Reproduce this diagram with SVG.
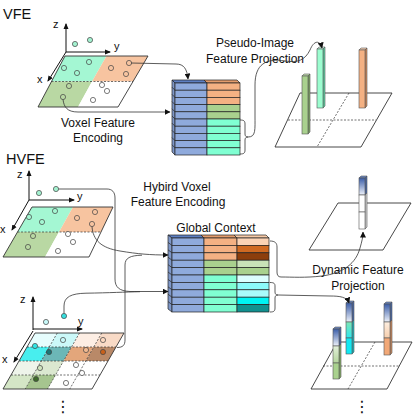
<svg xmlns="http://www.w3.org/2000/svg" width="414" height="417" viewBox="0 0 414 417">
<style>
text{font-family:"Liberation Sans","Open Sans",Arial,sans-serif;fill:#111}
.t{font-size:12px;text-anchor:middle}
.h{font-size:14.5px}
.ax{font-size:11px}
.ln{fill:none;stroke:#333;stroke-width:0.8}
.axis{fill:none;stroke:#111;stroke-width:1}
.edge{fill:none;stroke:#333;stroke-width:0.9}
.dash{fill:none;stroke:#333;stroke-width:0.7;stroke-dasharray:2,1.5}
.pt{stroke:#444;stroke-width:0.7}
.cell{stroke:#222;stroke-width:0.7}
.mint{fill:#a4f7d3}.org{fill:#f7c4a0}.grn{fill:#b9d8a3}.wht{fill:#fff}
.cb{fill:#8faadc}.co{fill:#f4b183}.cg{fill:#a9d18e}.cm{fill:#80ffd2}
.bar{stroke:#555;stroke-width:0.6}
.dots{font-family:"DejaVu Sans",sans-serif;font-size:16px;text-anchor:middle}
</style>
<defs>
<marker id="ar" markerWidth="6" markerHeight="6" refX="5.5" refY="3" orient="auto" markerUnits="userSpaceOnUse"><path d="M0,0 L6,3 L0,6 z" fill="#111"/></marker>
<marker id="axar" markerWidth="6" markerHeight="6" refX="5" refY="3" orient="auto" markerUnits="userSpaceOnUse"><path d="M0,0.5 L6,3 L0,5.5 z" fill="#111"/></marker>
<linearGradient id="gb" x1="0" y1="0" x2="0" y2="1"><stop offset="0" stop-color="#3a5da8"/><stop offset="1" stop-color="#eef2fa"/></linearGradient>
<linearGradient id="gg" x1="0" y1="0" x2="0" y2="1"><stop offset="0" stop-color="#e3f0da"/><stop offset="1" stop-color="#b3d49b"/></linearGradient>
<linearGradient id="gc" x1="0" y1="0" x2="0" y2="1"><stop offset="0" stop-color="#7fe6b6"/><stop offset="1" stop-color="#2ee6ee"/></linearGradient>
<linearGradient id="gp" x1="0" y1="0" x2="0" y2="1"><stop offset="0" stop-color="#fdeee0"/><stop offset="1" stop-color="#f6cfae"/></linearGradient>
</defs>

<!-- ================= VFE ================= -->
<g id="vfe-title"><text class="h" x="3" y="19">VFE</text></g>

<g id="vfe-grid">
<polygon class="mint" points="65,56 106.5,56 92,81.5 51.5,81.5"/>
<polygon class="org" points="106.5,56 148,56 133,81.5 92,81.5"/>
<polygon class="grn" points="51.5,81.5 92,81.5 78,107 38,107"/>
<polygon class="wht" points="92,81.5 133,81.5 118,107 78,107"/>
<polygon class="edge" points="65,56 148,56 118,107 38,107"/>
<line class="dash" x1="51.5" y1="81.5" x2="133" y2="81.5"/>
<line class="axis" x1="66" y1="52" x2="66" y2="24" marker-end="url(#axar)"/>
<line class="axis" x1="66" y1="52" x2="110" y2="52" marker-end="url(#axar)"/>
<line class="axis" x1="66" y1="52" x2="48" y2="81" marker-end="url(#axar)"/>
<text class="ax" x="53" y="28">z</text>
<text class="ax" x="114" y="50">y</text>
<text class="ax" x="37" y="83">x</text>
<circle class="pt" cx="75" cy="44" r="2.6" fill="#a4f2d0"/>
<circle class="pt" cx="90" cy="40" r="2.6" fill="#a4f2d0"/>
<circle class="pt" cx="89" cy="62" r="2.6" fill="#a4f7d3"/>
<circle class="pt" cx="64" cy="68" r="2.6" fill="#a4f7d3"/>
<circle class="pt" cx="77" cy="73" r="2.6" fill="#a4f7d3"/>
<circle class="pt" cx="129" cy="63" r="2.6" fill="#f7c4a0"/>
<circle class="pt" cx="111" cy="68" r="2.6" fill="#f7c4a0"/>
<circle class="pt" cx="126" cy="74" r="2.6" fill="#f7c4a0"/>
<circle class="pt" cx="69" cy="86" r="2.6" fill="#b9d8a3"/>
<circle class="pt" cx="63" cy="97" r="2.6" fill="#b9d8a3"/>
<circle class="pt" cx="102" cy="85" r="2.6" fill="#fff"/>
<circle class="pt" cx="107" cy="91" r="2.6" fill="#fff"/>
<circle class="pt" cx="93" cy="100" r="2.6" fill="#fff"/>
</g>
<g id="vfe-label"><text class="t" x="98" y="127">Voxel Feature</text><text class="t" x="98" y="142">Encoding</text></g>

<g id="vfe-table">
<polygon points="172,80 204,80 207,83 175,83" fill="#5d7fc2" class="cell"/>
<polygon points="204,80 237,80 240,83 207,83" fill="#e39c6c" class="cell"/>
<polygon points="172,80 175,83 175,155 172,152" fill="#7e97c8" class="cell"/>
<g class="cell">
<rect class="cb" x="175" y="83" width="32" height="7.2"/><rect class="co" x="207" y="83" width="33" height="7.2"/>
<rect class="cb" x="175" y="90.2" width="32" height="7.2"/><rect class="co" x="207" y="90.2" width="33" height="7.2"/>
<rect class="cb" x="175" y="97.4" width="32" height="7.2"/><rect class="co" x="207" y="97.4" width="33" height="7.2"/>
<rect class="cb" x="175" y="104.6" width="32" height="7.2"/><rect class="cg" x="207" y="104.6" width="33" height="7.2"/>
<rect class="cb" x="175" y="111.8" width="32" height="7.2"/><rect class="cg" x="207" y="111.8" width="33" height="7.2"/>
<rect class="cb" x="175" y="119" width="32" height="7.2"/><rect class="cm" x="207" y="119" width="33" height="7.2"/>
<rect class="cb" x="175" y="126.2" width="32" height="7.2"/><rect class="cm" x="207" y="126.2" width="33" height="7.2"/>
<rect class="cb" x="175" y="133.4" width="32" height="7.2"/><rect class="cm" x="207" y="133.4" width="33" height="7.2"/>
<rect class="cb" x="175" y="140.6" width="32" height="7.2"/><rect class="cm" x="207" y="140.6" width="33" height="7.2"/>
<rect class="cb" x="175" y="147.8" width="32" height="7.2"/><rect class="cm" x="207" y="147.8" width="33" height="7.2"/>
</g>
<path class="ln" d="M172,87.2 L175,90.2 M172,94.4 L175,97.4 M172,101.6 L175,104.6 M172,108.8 L175,111.8 M172,116 L175,119 M172,123.2 L175,126.2 M172,130.4 L175,133.4 M172,137.6 L175,140.6 M172,144.8 L175,147.8"/>
<path class="ln" d="M240,120 C244,120 245,121 245,124 L245,134 C245,136 246,137 248,137 C246,137 245,138 245,140 L245,150 C245,153 244,154 240,154"/>
</g>

<g id="vfe-plane">
<polygon class="edge" points="300,93 392,93 361,147 275,147" fill="#fff"/>
<line class="dash" x1="288" y1="120" x2="376" y2="120"/>
<line class="dash" x1="349" y1="93" x2="317" y2="147"/>
<polygon class="bar" points="302,76 304,74 310,74 308,76" fill="#c8e3b4"/>
<polygon class="bar" points="308,76 310,74 310,132 308,134" fill="#7fa865"/>
<rect class="bar" x="302" y="76" width="6" height="58" fill="#a9d18e"/>
<polygon class="bar" points="317,49 319,47 325,47 323,49" fill="#d0ffea"/>
<polygon class="bar" points="323,49 325,47 325,106 323,108" fill="#5fd6a6"/>
<rect class="bar" x="317" y="49" width="6" height="59" fill="#9cfdd0"/>
<polygon class="bar" points="359,50 361,48 367,48 365,50" fill="#fad2b4"/>
<polygon class="bar" points="365,50 367,48 367,106 365,108" fill="#d48c5c"/>
<rect class="bar" x="359" y="50" width="6" height="58" fill="#f4b183"/>
</g>
<g id="vfe-proj-label"><text class="t" x="255" y="47">Pseudo-Image</text><text class="t" x="255" y="63">Feature Projection</text></g>

<!-- ================= HVFE ================= -->
<g id="hvfe-title"><text class="h" x="6" y="164">HVFE</text></g>

<g id="hvfe-grid-top">
<polygon class="mint" points="32,207 73,207 59,232 17.5,232"/>
<polygon class="org" points="73,207 113,207 101,232 59,232"/>
<polygon class="grn" points="17.5,232 59,232 45,257 3,257"/>
<polygon class="wht" points="59,232 101,232 89,257 45,257"/>
<polygon class="edge" points="32,207 113,207 89,257 3,257"/>
<line class="dash" x1="17.5" y1="232" x2="101" y2="232"/>
<line class="axis" x1="29" y1="200" x2="29" y2="171" marker-end="url(#axar)"/>
<line class="axis" x1="29" y1="200" x2="74" y2="200" marker-end="url(#axar)"/>
<line class="axis" x1="29" y1="200" x2="12" y2="230" marker-end="url(#axar)"/>
<text class="ax" x="17" y="178">z</text>
<text class="ax" x="77" y="200">y</text>
<text class="ax" x="0" y="233">x</text>
<circle class="pt" cx="39" cy="193" r="2.6" fill="#a4f2d0"/>
<circle class="pt" cx="56" cy="189" r="2.6" fill="#a4f2d0"/>
<circle class="pt" cx="55" cy="211" r="2.6" fill="#a4f7d3"/>
<circle class="pt" cx="29" cy="217" r="2.6" fill="#a4f7d3"/>
<circle class="pt" cx="42" cy="222" r="2.6" fill="#a4f7d3"/>
<circle class="pt" cx="95" cy="212" r="2.6" fill="#f7c4a0"/>
<circle class="pt" cx="77" cy="218" r="2.6" fill="#f7c4a0"/>
<circle class="pt" cx="92" cy="224" r="2.6" fill="#f7c4a0"/>
<circle class="pt" cx="33" cy="236" r="2.6" fill="#b9d8a3"/>
<circle class="pt" cx="28" cy="247" r="2.6" fill="#b9d8a3"/>
<circle class="pt" cx="68" cy="234" r="2.6" fill="#fff"/>
<circle class="pt" cx="73" cy="242" r="2.6" fill="#fff"/>
<circle class="pt" cx="58" cy="251" r="2.6" fill="#fff"/>
</g>

<g id="hvfe-grid-bottom">
<g stroke="none">
<polygon points="35,333 57.25,333 49.25,347 27,347" fill="#e6fdfd"/>
<polygon points="57.25,333 79.5,333 71.5,347 49.25,347" fill="#cbf8f8"/>
<polygon points="79.5,333 101.75,333 93.75,347 71.5,347" fill="#fdeee4"/>
<polygon points="101.75,333 124,333 116,347 93.75,347" fill="#f8dac6"/>
<polygon points="27,347 49.25,347 41.25,361 19,361" fill="#48eeee"/>
<polygon points="49.25,347 71.5,347 63.5,361 41.25,361" fill="#6cb7b7"/>
<polygon points="71.5,347 93.75,347 85.75,361 63.5,361" fill="#e3a67b"/>
<polygon points="93.75,347 116,347 108,361 85.75,361" fill="#b98968"/>
<polygon points="19,361 41.25,361 33.25,375 11,375" fill="#eef4ea"/>
<polygon points="41.25,361 63.5,361 55.5,375 33.25,375" fill="#dbe8d0"/>
<polygon points="11,375 33.25,375 25.25,389 3,389" fill="#d4e6c6"/>
<polygon points="33.25,375 55.5,375 47.5,389 25.25,389" fill="#a6c58f"/>
</g>
<path class="dash" d="M27,347 L116,347 M19,361 L108,361 M11,375 L100,375 M57.25,333 L25.25,389 M79.5,333 L47.5,389 M101.75,333 L69.75,389"/>
<polygon class="edge" points="35,333 124,333 92,389 3,389"/>
<line class="axis" x1="33" y1="330" x2="33" y2="297" marker-end="url(#axar)"/>
<line class="axis" x1="33" y1="329" x2="82" y2="329" marker-end="url(#axar)"/>
<line class="axis" x1="33" y1="331" x2="14" y2="362" marker-end="url(#axar)"/>
<text class="ax" x="20" y="303">z</text>
<text class="ax" x="78" y="325">y</text>
<text class="ax" x="2" y="363">x</text>
<circle class="pt" cx="46" cy="322" r="2.6" fill="#c8f8f8"/>
<circle class="pt" cx="64" cy="316" r="2.6" fill="#36dede"/>
<circle class="pt" cx="35" cy="346" r="2.6" fill="#30e4e4"/>
<circle class="pt" cx="49" cy="352" r="2.6" fill="#1b7676"/>
<circle class="pt" cx="63" cy="340" r="2.6" fill="#c8f8f8"/>
<circle class="pt" cx="86" cy="350" r="2.6" fill="#f0b890"/>
<circle class="pt" cx="103" cy="352" r="2.6" fill="#c8601a"/>
<circle class="pt" cx="103" cy="340" r="2.6" fill="#fbd8c0"/>
<circle class="pt" cx="40" cy="368" r="2.6" fill="#cfe3bd"/>
<circle class="pt" cx="36" cy="379" r="2.6" fill="#3d6b2a"/>
<circle class="pt" cx="76" cy="365" r="2.6" fill="#fff"/>
<circle class="pt" cx="82" cy="373" r="2.6" fill="#fff"/>
<circle class="pt" cx="66" cy="383" r="2.6" fill="#fff"/>
</g>

<g id="hvfe-label"><text class="t" x="177" y="191">Hybird Voxel</text><text class="t" x="178" y="206">Feature Encoding</text></g>
<g id="global-label"><text class="t" x="216" y="232">Global Context</text></g>

<g id="hvfe-table">
<polygon points="168,235 201,235 204,238 172,238" fill="#5d7fc2" class="cell"/>
<polygon points="201,235 234,235 237,238 204,238" fill="#e39c6c" class="cell"/>
<polygon points="234,235 266,235 269,238 237,238" fill="#f6c9a6" class="cell"/>
<polygon points="168,235 172,238 172,312 168,309" fill="#7e97c8" class="cell"/>
<g class="cell">
<rect class="cb" x="172" y="238" width="32" height="7.4"/><rect class="co" x="204" y="238" width="33" height="7.4"/><rect x="237" y="238" width="32" height="7.4" fill="#fbd3b5"/>
<rect class="cb" x="172" y="245.4" width="32" height="7.4"/><rect class="co" x="204" y="245.4" width="33" height="7.4"/><rect x="237" y="245.4" width="32" height="7.4" fill="#d06a22"/>
<rect class="cb" x="172" y="252.8" width="32" height="7.4"/><rect class="co" x="204" y="252.8" width="33" height="7.4"/><rect x="237" y="252.8" width="32" height="7.4" fill="#8c3e0c"/>
<rect class="cb" x="172" y="260.2" width="32" height="7.4"/><rect class="cg" x="204" y="260.2" width="33" height="7.4"/><rect x="237" y="260.2" width="32" height="7.4" fill="#c9e2b8"/>
<rect class="cb" x="172" y="267.6" width="32" height="7.4"/><rect class="cg" x="204" y="267.6" width="33" height="7.4"/><rect x="237" y="267.6" width="32" height="7.4" fill="#a9d18e"/>
<rect class="cb" x="172" y="275" width="32" height="7.4"/><rect class="cm" x="204" y="275" width="33" height="7.4"/><rect x="237" y="275" width="32" height="7.4" fill="#dcfefe"/>
<rect class="cb" x="172" y="282.4" width="32" height="7.4"/><rect class="cm" x="204" y="282.4" width="33" height="7.4"/><rect x="237" y="282.4" width="32" height="7.4" fill="#8cf9f9"/>
<rect class="cb" x="172" y="289.8" width="32" height="7.4"/><rect class="cm" x="204" y="289.8" width="33" height="7.4"/><rect x="237" y="289.8" width="32" height="7.4" fill="#a8fbfb"/>
<rect class="cb" x="172" y="297.2" width="32" height="7.4"/><rect class="cm" x="204" y="297.2" width="33" height="7.4"/><rect x="237" y="297.2" width="32" height="7.4" fill="#00f3f3"/>
<rect class="cb" x="172" y="304.6" width="32" height="7.4"/><rect class="cm" x="204" y="304.6" width="33" height="7.4"/><rect x="237" y="304.6" width="32" height="7.4" fill="#11908f"/>
</g>
<path class="ln" d="M168,242.4 L172,245.4 M168,249.8 L172,252.8 M168,257.2 L172,260.2 M168,264.6 L172,267.6 M168,272 L172,275 M168,279.4 L172,282.4 M168,286.8 L172,289.8 M168,294.2 L172,297.2 M168,301.6 L172,304.6"/>
<path class="ln" d="M270,241 C275,241 277,243 277,247 L277,272 C277,275 278,277 281,277"/>
<path class="ln" d="M270,282.5 C274,282.5 275,283.5 275,286 L275,292 C275,294 276,295 278,295 C276,295 275,296 275,298 L275,308 C275,311 274,312 270,312"/>
</g>

<g id="hvfe-plane-top">
<polygon class="edge" points="338,203 411,203 383,250 309,250" fill="#fff"/>
<polygon class="bar" points="359,178 361,176 367,176 365,178" fill="#6d8bc8"/>
<polygon class="bar" points="365,178 367,176 367,193 365,195" fill="#4868a8"/>
<polygon class="bar" points="365,195 367,193 367,227 365,229" fill="#d8d8d8"/>
<rect class="bar" x="359" y="178" width="6" height="17" fill="url(#gb)"/>
<rect class="bar" x="359" y="195" width="6" height="17" fill="#fff"/>
<rect class="bar" x="359" y="212" width="6" height="17" fill="#fff"/>
</g>

<g id="hvfe-plane-bottom">
<polygon class="edge" points="337,342 412,342 387,389 311,389" fill="#fff"/>
<line class="dash" x1="323" y1="366" x2="400" y2="366"/>
<line class="dash" x1="375" y1="342" x2="348" y2="389"/>
<polygon class="bar" points="333,329 335,327 341,327 339,329" fill="#6d8bc8"/>
<polygon class="bar" points="339,329 341,327 341,344 339,346" fill="#4868a8"/>
<polygon class="bar" points="339,346 341,344 341,377 339,379" fill="#86ad6a"/>
<rect class="bar" x="333" y="329" width="6" height="17" fill="url(#gb)"/>
<rect class="bar" x="333" y="346" width="6" height="17" fill="url(#gg)"/>
<rect class="bar" x="333" y="363" width="6" height="16" fill="#a9d18e"/>
<polygon class="bar" points="346,303 348,301 354,301 352,303" fill="#6d8bc8"/>
<polygon class="bar" points="352,303 354,301 354,320 352,322" fill="#4868a8"/>
<polygon class="bar" points="352,322 354,320 354,352 352,354" fill="#1fb8c0"/>
<rect class="bar" x="346" y="303" width="6" height="19" fill="url(#gb)"/>
<rect class="bar" x="346" y="322" width="6" height="16" fill="url(#gc)"/>
<rect class="bar" x="346" y="338" width="6" height="16" fill="#12e8f2"/>
<polygon class="bar" points="384,304 386,302 392,302 390,304" fill="#6d8bc8"/>
<polygon class="bar" points="390,304 392,302 392,320 390,322" fill="#4868a8"/>
<polygon class="bar" points="390,322 392,320 392,353 390,355" fill="#d08c5e"/>
<rect class="bar" x="384" y="304" width="6" height="18" fill="url(#gb)"/>
<rect class="bar" x="384" y="322" width="6" height="16" fill="url(#gp)"/>
<rect class="bar" x="384" y="338" width="6" height="17" fill="#f2a877"/>
</g>

<g id="dyn-label"><text class="t" x="358" y="274">Dynamic Feature</text><text class="t" x="358" y="290">Projection</text></g>

<g id="ellipses">
<text class="dots" x="362" y="412">⋮</text>
<text class="dots" x="63" y="412">⋮</text>
</g>

<g id="connectors">
<path class="ln" d="M131,63 L176,64 C184,64 187,69 188,79" marker-end="url(#ar)"/>
<path class="ln" d="M63,99.5 C64,107 67,112 78,112 L170,112" marker-end="url(#ar)"/>
<path class="ln" d="M248,137 C256,137 255,130 255,115 L255,85 C255,64 266,58 285,61 C298,63 305,60 310,50 C314,40 320,40 322,48" marker-end="url(#ar)"/>
<path class="ln" d="M58.6,189 L107,189 C112,189 115,192 115,198 L115,279 C115,287 119,291 130,291.5 L168,291.5" marker-end="url(#ar)"/>
<path class="ln" d="M64,313.4 L64,306 C64,297 71,293.5 86,293.2 C110,292.8 125,292 140,291.7"/>
<path class="ln" d="M92,226.6 C93,240 101,248 120,251 C138,254 150,255 168,255" marker-end="url(#ar)"/>
<path class="ln" d="M117,347.5 C123,347.5 125,345 125,340 L125,265 C125,258 130,255.5 142,255.2"/>
<path class="ln" d="M281,277 C292,277 305,278 322,276 C344,273 356,263 360,248 C362,241 363,237 363,232" marker-end="url(#ar)"/>
<path class="ln" d="M278,295 L330,296 C340,296 347,297 349,303" marker-end="url(#ar)"/>
</g>
</svg>
